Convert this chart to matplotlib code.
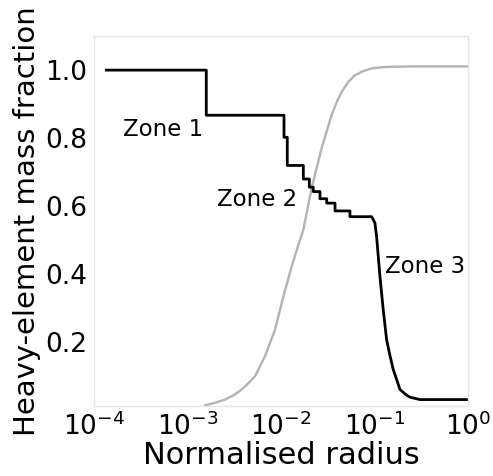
import matplotlib

matplotlib.use("Agg")
import matplotlib.pyplot as plt
import numpy as np

# heavy-element profile (black step curve), log10 radius vs mass fraction
z_log_r = [-3.87, -2.80, -2.80, -1.968, -1.968, -1.933, -1.933, -1.761, -1.761,
           -1.697, -1.697, -1.655, -1.655, -1.583, -1.583, -1.511, -1.511,
           -1.422, -1.422, -1.262, -1.262, -1.030, -0.995, -0.977, -0.941,
           -0.906, -0.870, -0.835, -0.799, -0.727, -0.670, -0.620, -0.513, 0.0]
z_frac = [1.0, 1.0, 0.867, 0.867, 0.802, 0.802, 0.719, 0.719, 0.679,
          0.679, 0.655, 0.655, 0.642, 0.642, 0.621, 0.621, 0.608,
          0.608, 0.585, 0.585, 0.568, 0.568, 0.55, 0.51, 0.392,
          0.294, 0.206, 0.16, 0.118, 0.059, 0.045, 0.036, 0.029, 0.029]

# grey companion curve
g_log_r = [-2.813, -2.70, -2.599, -2.50, -2.42, -2.35, -2.278, -2.171, -2.064,
           -1.975, -1.886, -1.82, -1.761, -1.672, -1.565, -1.458, -1.40,
           -1.351, -1.28, -1.209, -1.12, -1.03, -0.90, -0.781, -0.567, -0.3, 0.0]
g_frac = [0.012, 0.02, 0.029, 0.043, 0.059, 0.077, 0.098, 0.157, 0.235,
          0.333, 0.421, 0.48, 0.529, 0.652, 0.77, 0.868, 0.908,
          0.936, 0.965, 0.985, 0.997, 1.005, 1.009, 1.01, 1.011, 1.011, 1.011]

zone_labels = ["Zone 1", "Zone 2", "Zone 3"]
zone_log_r = [-3.69, -2.69, -0.888]
zone_frac = [0.824, 0.62, 0.42]

fig = plt.figure(figsize=(4.93, 4.76), dpi=100)
ax = fig.add_axes([0.191, 0.147, 0.758, 0.777])

ax.plot(10 ** np.array(g_log_r), g_frac, color="#b3b3b3", linewidth=1.7)
ax.plot(10 ** np.array(z_log_r), z_frac, color="black", linewidth=2.0)

for label, lr, fr in zip(zone_labels, zone_log_r, zone_frac):
    ax.text(10 ** lr, fr, label, fontsize=16.5, ha="left", va="center")

ax.set_xscale("log")
ax.set_xlim(1e-4, 1.0)
ax.set_ylim(0.01, 1.1)
ax.set_xticks([1e-4, 1e-3, 1e-2, 1e-1, 1.0])
ax.set_yticks([0.2, 0.4, 0.6, 0.8, 1.0])
ax.set_yticklabels(["0.2", "0.4", "0.6", "0.8", "1.0"])
ax.minorticks_off()
ax.tick_params(length=0, labelsize=19, pad=5)
for spine in ax.spines.values():
    spine.set_color("#e6e6e6")
    spine.set_linewidth(1.0)

ax.set_xlabel("Normalised radius", fontsize=22, labelpad=0)
ax.set_ylabel("Heavy-element mass fraction", fontsize=21, labelpad=3)

fig.savefig("out.png", dpi=100)
plt.close(fig)
